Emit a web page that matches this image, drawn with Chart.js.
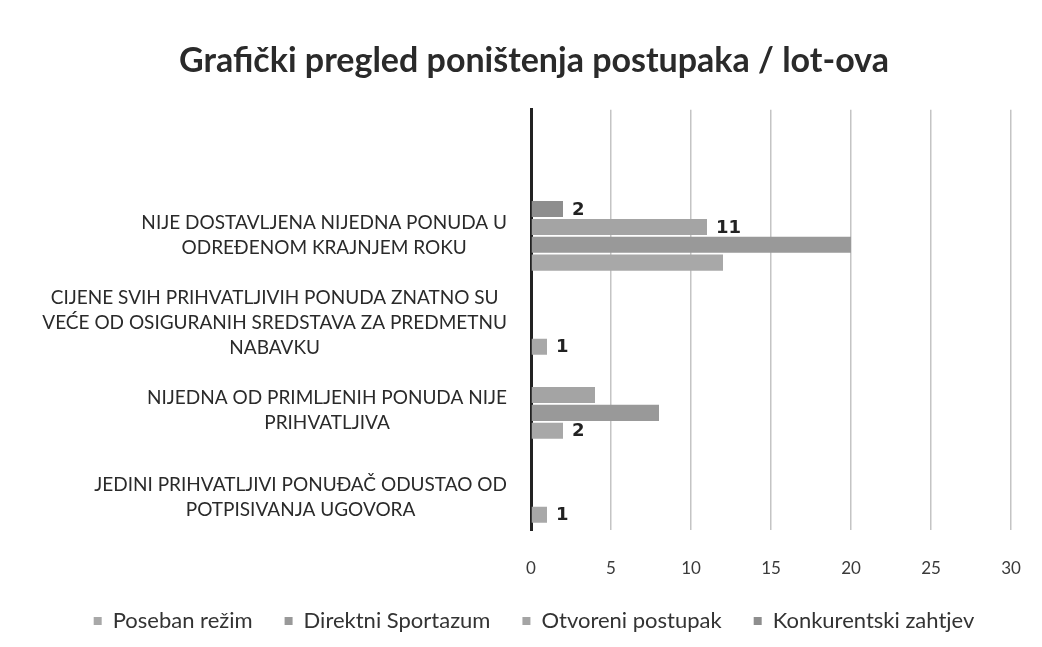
<!DOCTYPE html>
<html>
<head>
<meta charset="utf-8">
<script src="https://cdn.jsdelivr.net/npm/chart.js@4.4.1/dist/chart.umd.min.js"></script>
<style>
  html, body { margin: 0; padding: 0; background: #fff; }
  #wrap { width: 1042px; height: 647px; }
</style>
</head>
<body>
<div id="wrap"><canvas id="myChart" width="1042" height="647"></canvas></div>
<script>
// Kategorije (odozgo prema dolje); prva je prazan red na vrhu grafikona
var categories = [
  [''],
  ['NIJE DOSTAVLJENA NIJEDNA PONUDA U', 'ODREĐENOM KRAJNJEM ROKU'],
  ['CIJENE SVIH PRIHVATLJIVIH PONUDA ZNATNO SU', 'VEĆE OD OSIGURANIH SREDSTAVA ZA PREDMETNU', 'NABAVKU'],
  ['NIJEDNA OD PRIMLJENIH PONUDA NIJE', 'PRIHVATLJIVA'],
  ['JEDINI PRIHVATLJIVI PONUĐAČ ODUSTAO OD', 'POTPISIVANJA UGOVORA']
];

// Vrijednosti serija
var posebanRezim = [null, 12, 1, 2, 1];
var direktniSporazum = [null, 20, null, 8, null];
var otvoreniPostupak = [null, 11, null, 4, null];
var konkurentskiZahtjev = [null, 2, null, null, null];

// Koje oznake vrijednosti se vide na slici
var posebanOznake = [false, false, true, true, true];
var direktniOznake = [false, false, false, false, false];
var otvoreniOznake = [false, true, false, false, false];
var konkurentskiOznake = [false, true, false, false, false];

var xTicks = [0, 5, 10, 15, 20, 25, 30];

var FONT = 'Lato, "Open Sans", sans-serif';
var LIJEVO = 57;

// Bijela pozadina
var pozadina = {
  id: 'pozadina',
  beforeDraw: function(chart) {
    var c = chart.ctx;
    c.save();
    c.fillStyle = '#ffffff';
    c.fillRect(0, 0, chart.width, chart.height);
    c.restore();
  }
};

// Oznake kategorija, centrirane u bloku uz os
var oznakeKategorija = {
  id: 'oznakeKategorija',
  afterDraw: function(chart) {
    var c = chart.ctx;
    var y = chart.scales.y;
    c.save();
    c.font = '19px ' + FONT;
    c.fillStyle = '#2a2a2a';
    c.textAlign = 'center';
    c.textBaseline = 'middle';
    var lh = 25;
    categories.forEach(function(lines, i) {
      if (!lines[0]) return;
      var maxW = 0;
      lines.forEach(function(l) { maxW = Math.max(maxW, c.measureText(l).width); });
      var cx = 507 - maxW / 2;
      var cy = y.getPixelForValue(i) + (i - 1) * 3;
      lines.forEach(function(l, k) {
        c.fillText(l, cx, cy - (lines.length - 1) * lh / 2 + k * lh);
      });
    });
    c.restore();
  }
};

// Oznake vrijednosti desno od stupaca
var oznakeVrijednosti = {
  id: 'oznakeVrijednosti',
  afterDatasetsDraw: function(chart) {
    var c = chart.ctx;
    c.save();
    c.font = 'bold 18px "DejaVu Sans", sans-serif';
    c.fillStyle = '#222222';
    c.textAlign = 'left';
    c.textBaseline = 'middle';
    chart.data.datasets.forEach(function(ds, di) {
      var meta = chart.getDatasetMeta(di);
      meta.data.forEach(function(bar, i) {
        if (ds.data[i] == null || !ds.oznake[i]) return;
        c.fillText(String(ds.data[i]), bar.x + 9, bar.y + 1);
      });
    });
    c.restore();
  }
};

var ctx = document.getElementById('myChart').getContext('2d');

var chart = new Chart(ctx, {
  type: 'bar',
  data: {
    labels: categories,
    datasets: [
      { label: 'Konkurentski zahtjev', data: konkurentskiZahtjev, oznake: konkurentskiOznake, backgroundColor: '#8e8e8e' },
      { label: 'Otvoreni postupak', data: otvoreniPostupak, oznake: otvoreniOznake, backgroundColor: '#a4a4a4' },
      { label: 'Direktni Sportazum', data: direktniSporazum, oznake: direktniOznake, backgroundColor: '#999999' },
      { label: 'Poseban režim', data: posebanRezim, oznake: posebanOznake, backgroundColor: '#a8a8a8' }
    ]
  },
  options: {
    indexAxis: 'y',
    responsive: false,
    animation: false,
    categoryPercentage: 0.85,
    barPercentage: 0.9,
    layout: { padding: { left: LIJEVO, right: 31, top: 0, bottom: 5 } },
    scales: {
      x: {
        min: 0,
        max: 30,
        afterBuildTicks: function(scale) {
          scale.ticks = xTicks.map(function(v) { return { value: v }; });
        },
        afterFit: function(scale) {
          scale.height = 48;
          scale.paddingLeft = 0;
          scale.paddingRight = 0;
        },
        grid: { color: '#c4c4c4', lineWidth: 1.5, drawTicks: false },
        border: { display: false },
        ticks: {
          padding: 28,
          color: '#3a3a3a',
          font: { family: FONT, size: 17 }
        }
      },
      y: {
        afterFit: function(scale) { scale.width = 531 - LIJEVO; },
        grid: { display: false, drawTicks: false },
        border: { display: true, color: '#222222', width: 3 },
        ticks: { display: false }
      }
    },
    plugins: {
      title: {
        display: true,
        text: 'Grafički pregled poništenja postupaka / lot-ova',
        color: '#2a2a2a',
        font: { family: FONT, size: 34, weight: 'bold' },
        padding: { top: 41, bottom: 28 }
      },
      legend: {
        position: 'bottom',
        reverse: true,
        labels: {
          boxWidth: 8,
          boxHeight: 8,
          padding: 32,
          color: '#333333',
          font: { family: FONT, size: 22 }
        }
      },
      tooltip: { enabled: false }
    }
  },
  plugins: [pozadina, oznakeKategorija, oznakeVrijednosti]
});
</script>
</body>
</html>
